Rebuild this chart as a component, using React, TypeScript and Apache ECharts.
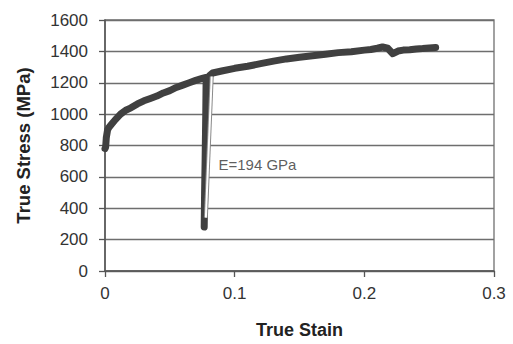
import React, { useEffect, useRef } from "react";
import * as echarts from "echarts";

const strain = [0, 0.0005, 0.001, 0.002, 0.003, 0.005, 0.008, 0.012, 0.016, 0.02, 0.025, 0.03, 0.035, 0.04, 0.045, 0.05, 0.055, 0.06, 0.065, 0.07, 0.075, 0.078,
  0.0777, 0.0772, 0.0768, 0.0765, 0.0768, 0.0774, 0.078, 0.0805, 0.083, 0.09, 0.1, 0.11, 0.12, 0.13, 0.14, 0.15, 0.16, 0.17, 0.18, 0.19, 0.2, 0.205, 0.21, 0.214, 0.218, 0.222, 0.226, 0.23, 0.235, 0.24, 0.245, 0.25, 0.255];
const stress = [780, 790, 850, 900, 915, 935, 965, 1000, 1025, 1040, 1065, 1085, 1100, 1115, 1135, 1150, 1170, 1185, 1200, 1215, 1228, 1235,
  1000, 700, 450, 280, 500, 800, 1100, 1245, 1262, 1275, 1292, 1305, 1322, 1338, 1352, 1362, 1372, 1382, 1392, 1398, 1408, 1412, 1420, 1428, 1420, 1385, 1402, 1408, 1410, 1415, 1418, 1422, 1425];

const fitStrain = [0.0778, 0.0823];
const fitStress = [340, 1240];

const xTicks = [0, 0.1, 0.2, 0.3];
const yTicks = [0, 200, 400, 600, 800, 1000, 1200, 1400, 1600];
const annotation = { x: 0.0875, y: 680, text: "E=194 GPa" };

export default function App() {
  const ref = useRef<HTMLDivElement>(null);
  useEffect(() => {
    const chart = echarts.init(ref.current!, null, { renderer: "svg" });
    const font = "'Liberation Sans', Arial, sans-serif";
    chart.setOption({
      animation: false,
      grid: { left: 105, right: 19, top: 20, bottom: 71, show: true, borderColor: "#707070", borderWidth: 1.3 },
      xAxis: {
        type: "value", min: xTicks[0], max: xTicks[xTicks.length - 1], interval: 0.1,
        name: "True Stain", nameLocation: "middle", nameGap: 50,
        nameTextStyle: { fontFamily: font, fontSize: 18, fontWeight: "bold", color: "#222" },
        axisLine: { show: true, lineStyle: { color: "#555", width: 1.5 } },
        axisTick: { show: true, length: 6, inside: false, lineStyle: { color: "#555", width: 1.3 } },
        axisLabel: { fontFamily: font, fontSize: 17, color: "#333", margin: 14, formatter: (v: number) => String(+v.toFixed(1)) },
        splitLine: { show: false },
      },
      yAxis: {
        type: "value", min: yTicks[0], max: yTicks[yTicks.length - 1], interval: 200,
        name: "True Stress (MPa)", nameLocation: "middle", nameGap: 72,
        nameTextStyle: { fontFamily: font, fontSize: 18.5, fontWeight: "bold", color: "#222" },
        axisLine: { show: true, lineStyle: { color: "#555", width: 1.5 } },
        axisTick: { show: true, length: 6, lineStyle: { color: "#555", width: 1.3 } },
        axisLabel: { fontFamily: font, fontSize: 17, color: "#333", margin: 17, formatter: (v: number) => String(v) },
        splitLine: { show: true, lineStyle: { color: "#6e6e6e", width: 1.3 } },
      },
      series: [
        {
          type: "line", data: strain.map((s, i) => [s, stress[i]]), showSymbol: false,
          lineStyle: { color: "#404040", width: 7, cap: "round", join: "round" }, z: 3,
        },
        {
          type: "line", data: fitStrain.map((s, i) => [s, fitStress[i]]), showSymbol: false,
          lineStyle: { color: "#888", width: 4 }, z: 4,
        },
        {
          type: "line", data: fitStrain.map((s, i) => [s, fitStress[i]]), showSymbol: false,
          lineStyle: { color: "#ffffff", width: 2 }, z: 5,
        },
        {
          type: "scatter", data: [[annotation.x, annotation.y]], symbolSize: 0, z: 6,
          label: { show: true, position: "right", distance: 0, formatter: annotation.text, fontFamily: font, fontSize: 15, color: "#333" },
        },
      ],
    });
    return () => chart.dispose();
  }, []);
  return <div ref={ref} style={{ width: 513, height: 344, position: "absolute", left: 0, top: 0 }} />;
}
